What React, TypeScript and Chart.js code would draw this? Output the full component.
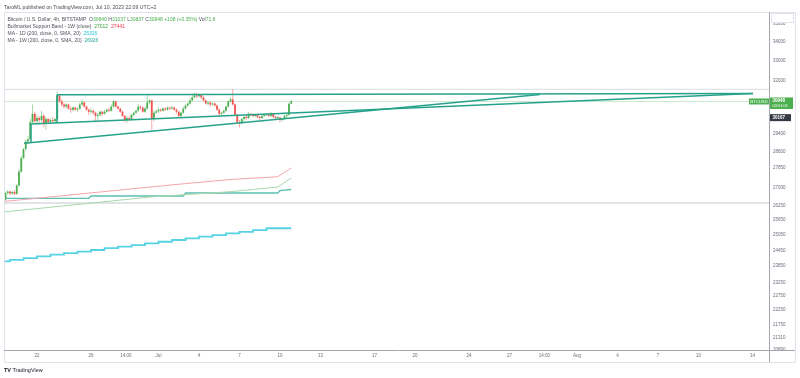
import React, { useEffect, useRef } from "react";
import { Chart, registerables } from "chart.js";

Chart.register(...registerables);

// Time is measured in days, with Jun 1 2023 00:00 UTC = 0.
const FIRST_CANDLE_DAY = 18 + 16 / 24; // Jun 19 16:00
const CANDLE_DAYS = 4 / 24; // 4h candles

const opens = [
  26500, 26780,
  26840, 26760, 26820, 26740, 27100, 27700,
  28300, 28700, 29050, 29150, 29950, 30350,
  30000, 30150, 30050, 30250, 29900, 30100,
  29950, 30050, 30000, 30100, 31250, 30950,
  30800, 30700, 30800, 30600, 30550, 30650,
  30550, 30600, 30800, 30900, 30700, 30550,
  30450, 30500, 30400, 30250, 30300, 30450,
  30350, 30450, 30550, 30500, 30700, 30950,
  30700, 30600, 30450, 30250, 30050, 30150,
  30100, 30300, 30400, 30500, 30700, 30650,
  30450, 30600, 30900, 31000, 30100, 30400,
  30470, 30550, 30500, 30600, 30550, 30650,
  30600, 30650, 30550, 30450, 30250, 30400,
  30600, 30750, 30850, 31000, 31150, 31250,
  31200, 31280, 31150, 31000, 30850, 30900,
  30800, 30850, 30750, 30550, 30350, 30400,
  30500, 30700, 30950, 31050, 30800, 30300,
  29950, 29900, 30100, 30200, 30150, 30350,
  30300, 30250, 30300, 30200, 30150, 30250,
  30280, 30300, 30250, 30350, 30200, 30150,
  30170, 30050, 30100, 30250, 30300, 30840,
];
const highs = [
  26830, 26900,
  26880, 26860, 26900, 27150, 27800, 28400,
  28750, 29150, 29300, 30100, 30800, 30450,
  30300, 30250, 30500, 30350, 30200, 30150,
  30150, 30200, 30150, 31430, 31300, 31050,
  30900, 30850, 30850, 30700, 30700, 30700,
  30650, 30900, 31050, 30950, 30750, 30600,
  30650, 30550, 30450, 30400, 30500, 30500,
  30550, 30600, 30650, 30800, 31010, 30980,
  30750, 30650, 30500, 30300, 30250, 30250,
  30350, 30450, 30550, 30830, 30750, 30700,
  30700, 31280, 31050, 31050, 30500, 30550,
  30650, 30600, 30650, 30650, 30700, 30700,
  30750, 30700, 30600, 30500, 30450, 30700,
  30800, 30900, 31100, 31300, 31390, 31350,
  31330, 31300, 31200, 31050, 30950, 30950,
  30900, 30900, 30800, 30600, 30450, 30550,
  30750, 31000, 31150, 31550, 30850, 30350,
  30050, 30150, 30250, 30300, 30450, 30400,
  30350, 30350, 30350, 30250, 30300, 30350,
  30380, 30350, 30440, 30400, 30250, 30250,
  30200, 30150, 30300, 30400, 30900, 31037,
];
const lows = [
  26460, 26700,
  26680, 26700, 26690, 26700, 27050, 27650,
  28250, 28650, 28950, 29100, 29900, 29900,
  29850, 29900, 29950, 29700, 29600, 29850,
  29850, 29900, 29900, 30050, 30900, 30700,
  30600, 30600, 30550, 30400, 30450, 30500,
  30450, 30550, 30750, 30650, 30500, 30300,
  30350, 30300, 30000, 29950, 30200, 30250,
  30300, 30400, 30450, 30450, 30650, 30650,
  30550, 30400, 30200, 29950, 29920, 30000,
  30050, 30250, 30350, 30450, 30550, 30400,
  30400, 30550, 30800, 29600, 30000, 30350,
  30400, 30450, 30450, 30500, 30500, 30550,
  30550, 30500, 30350, 30170, 30200, 30350,
  30550, 30700, 30800, 30950, 31100, 31100,
  31150, 31050, 30950, 30800, 30750, 30700,
  30750, 30700, 30500, 30250, 30200, 30350,
  30450, 30650, 30900, 30750, 30250, 29850,
  29700, 29850, 30000, 30050, 30100, 30250,
  30200, 30200, 30150, 30060, 30100, 30200,
  30250, 30200, 30200, 30150, 30070, 30100,
  29950, 29980, 30050, 30150, 30250, 30837,
];
const closes = [
  26780, 26840,
  26760, 26820, 26740, 27100, 27700, 28300,
  28700, 29050, 29150, 29950, 30350, 30000,
  30150, 30050, 30250, 29900, 30100, 29950,
  30050, 30000, 30100, 31250, 30950, 30800,
  30700, 30800, 30600, 30550, 30650, 30550,
  30600, 30800, 30900, 30700, 30550, 30450,
  30500, 30400, 30250, 30300, 30450, 30350,
  30450, 30550, 30500, 30700, 30950, 30700,
  30600, 30450, 30250, 30050, 30150, 30100,
  30300, 30400, 30500, 30700, 30650, 30450,
  30600, 30900, 31000, 30100, 30400, 30470,
  30550, 30500, 30600, 30550, 30650, 30600,
  30650, 30550, 30450, 30250, 30400, 30600,
  30750, 30850, 31000, 31150, 31250, 31200,
  31280, 31150, 31000, 30850, 30900, 30800,
  30850, 30750, 30550, 30350, 30400, 30500,
  30700, 30950, 31050, 30800, 30300, 29950,
  29900, 30100, 30200, 30150, 30350, 30300,
  30250, 30300, 30200, 30150, 30250, 30280,
  30300, 30250, 30350, 30200, 30150, 30170,
  30050, 30100, 30250, 30300, 30840, 30948,
];

// Bull market support band (weekly) on the 4h chart
const bandDays = [18.5, 25, 29.37, 32, 35.3, 38.833, 39.833];
const bandUpper = [26419, 26781, 27032, 27178, 27355, 27476, 27857];
const bandLower = [25984, 26352, 26607, 26709, 26831, 27032, 27420];

// MA 1W (200)
const ma1wDays = [18.5, 24.833, 25, 31.833, 32, 38.833, 39, 39.833];
const ma1wValues = [26553, 26553, 26650, 26650, 26777, 26777, 26874, 26926];

// MA 1D (200), one value per day start
const ma1dDays = [18, 19, 20, 21, 22, 23, 24, 25, 26, 27, 28, 29, 30, 31, 32, 33, 34, 35, 36, 37, 38, 39, 39.833];
const ma1dValues = [23970, 24030, 24090, 24160, 24220, 24290, 24350, 24410, 24470, 24540, 24600, 24660, 24730, 24790, 24860, 24920, 24990, 25050, 25120, 25180, 25250, 25326, 25326];

// Drawn pattern (trend lines)
const topLineDays = [22.481, 74.037];
const topLinePrices = [31277, 31341];
const midLineDays = [20.556, 74.037];
const midLinePrices = [29865, 31341];
const lowLineDays = [20.037, 58.259];
const lowLinePrices = [28967, 31291];
const flag1Days = [20.556, 20.556];
const flag1Prices = [29004, 29865];
const flag2Days = [22.481, 22.481];
const flag2Prices = [29917, 31277];

const resistanceLevel = 31550;
const supportLevel = 26357;
const currentPrice = 30948;
const markedPrice = 30167;
const countdown = "03:51:01";

const xTickDays = [21, 25, 27 + 14 / 24, 30, 33, 36, 39, 42, 46, 49, 53, 56, 58 + 14 / 24, 61, 64, 67, 70, 74];
const xTickLabels = ["22", "26", "14:00", "Jul", "4", "7", "10", "13", "17", "20", "24", "27", "14:00", "Aug", "4", "7", "10", "14"];
const yTickValues = [35000, 34000, 33000, 32000, 29400, 28600, 27850, 27000, 26250, 25650, 25050, 24450, 23850, 23250, 22750, 22250, 21750, 21310, 20890];

const X_MIN = 18.5556;
const X_MAX = 75.2222;
const Y_MIN = 20890;
const Y_MAX = 35652;

const FONT = '"Liberation Sans", Arial, sans-serif';
const UP = "#4caf50";
const DOWN = "#ef5350";
const DRAW = "#26a28a";

const decorPlugin = {
  id: "decor",
  beforeDraw(chart: any) {
    const ctx = chart.ctx;
    ctx.save();
    ctx.fillStyle = "#ffffff";
    ctx.fillRect(0, 0, chart.width, chart.height);
    ctx.restore();
  },
  afterDraw(chart: any) {
    const { ctx, chartArea, scales } = chart;
    const ys = scales.y;
    const r = chartArea.right;
    ctx.save();
    ctx.lineWidth = 1;
    ctx.strokeStyle = "#e0e3eb";
    ctx.strokeRect(4.5, 12.5, 791, 350);
    ctx.strokeStyle = "#a3a6af";
    ctx.beginPath();
    ctx.moveTo(r + 0.5, chartArea.top);
    ctx.lineTo(r + 0.5, 362);
    ctx.moveTo(chartArea.left, chartArea.bottom + 0.5);
    ctx.lineTo(795, chartArea.bottom + 0.5);
    ctx.stroke();

    // top button on price axis
    ctx.fillStyle = "#ffffff";
    ctx.fillRect(r + 2, 13, 23, 10);
    ctx.strokeStyle = "#e0e3eb";
    ctx.strokeRect(r + 2.5, 13.5, 22, 9);

    // current price
    const py = ys.getPixelForValue(currentPrice);
    ctx.fillStyle = UP;
    ctx.fillRect(r + 1, py - 4, 23, 11.5);
    ctx.fillRect(r - 20, py - 3, 20, 6);
    ctx.fillStyle = "#ffffff";
    ctx.textBaseline = "middle";
    ctx.textAlign = "left";
    ctx.font = `bold 4.5px ${FONT}`;
    ctx.fillText(String(currentPrice), r + 3.5, py - 0.6);
    ctx.font = `4px ${FONT}`;
    ctx.fillText(countdown, r + 3.5, py + 4.2);
    ctx.font = `4.3px ${FONT}`;
    ctx.textAlign = "center";
    ctx.fillText("BTCUSD", r - 10, py + 0.2);

    const my = ys.getPixelForValue(markedPrice);
    ctx.fillStyle = "#363a45";
    ctx.fillRect(r + 1, my - 3.5, 21, 7);
    ctx.fillStyle = "#ffffff";
    ctx.textAlign = "left";
    ctx.font = `bold 4.5px ${FONT}`;
    ctx.fillText(String(markedPrice), r + 3.5, my);
    ctx.restore();
  },
};

export default function App() {
  const ref = useRef<HTMLCanvasElement>(null);

  useEffect(() => {
    const canvas = ref.current;
    if (!canvas) return;
    const candleDays = closes.map((_, i) => FIRST_CANDLE_DAY + i * CANDLE_DAYS);
    const up = closes.map((c, i) => c >= opens[i]);
    const wickData = candleDays.map((d, i) => ({ x: d, y: [lows[i], highs[i]] }));
    const bodyData = candleDays.map((d, i) => ({ x: d, y: [opens[i], closes[i]] }));
    const pts = (days: number[], vals: number[]) => days.map((d, i) => ({ x: d, y: vals[i] }));
    const line = (data: any[], color: string, width: number, order: number, extra: any = {}) => ({
      type: "line",
      data,
      borderColor: color,
      borderWidth: width,
      pointRadius: 0,
      fill: false,
      tension: 0,
      order,
      ...extra,
    });

    const chart = new Chart(canvas, {
      type: "bar",
      data: {
        datasets: [
          line(pts(flag1Days, flag1Prices), DRAW, 1.5, 0),
          line(pts(flag2Days, flag2Prices), DRAW, 1.5, 0),
          line(pts(topLineDays, topLinePrices), DRAW, 1.5, 0),
          line(pts(midLineDays, midLinePrices), DRAW, 1.5, 0),
          line(pts(lowLineDays, lowLinePrices), DRAW, 1.5, 0),
          {
            type: "bar",
            data: bodyData,
            backgroundColor: up.map((u) => (u ? UP : DOWN)),
            barThickness: 1.8,
            grouped: false,
            minBarLength: 1,
            inflateAmount: 0,
            order: 1,
          },
          {
            type: "bar",
            data: wickData,
            backgroundColor: up.map((u) => (u ? "rgba(76,175,80,0.5)" : "rgba(239,83,80,0.5)")),
            barThickness: 1,
            grouped: false,
            inflateAmount: 0,
            order: 2,
          },
          line(pts(bandDays, bandUpper), "#f5a5ab", 1, 3),
          line(pts(bandDays, bandLower), "#a8d8aa", 1, 3),
          line(pts(ma1wDays, ma1wValues), "#5dbfb2", 1.3, 3),
          line(pts(ma1dDays, ma1dValues), "#56d3e3", 1.8, 3, { stepped: "after" }),
          line(pts([X_MIN, X_MAX], [currentPrice, currentPrice]), "#cde9ce", 1, 4),
          line(pts([X_MIN, X_MAX], [resistanceLevel, resistanceLevel]), "#dadce2", 1, 4),
          line(pts([X_MIN, X_MAX], [supportLevel, supportLevel]), "#c5c8cf", 1, 4),
        ] as any,
      },
      options: {
        animation: false,
        responsive: false,
        events: [],
        layout: { padding: { left: 4, top: 12, right: 5, bottom: 16 }, autoPadding: false },
        plugins: { legend: { display: false }, tooltip: { enabled: false } },
        scales: {
          x: {
            type: "linear",
            min: X_MIN,
            max: X_MAX,
            offset: false,
            bounds: "data",
            grid: { display: false, drawTicks: false },
            border: { display: false },
            afterBuildTicks: (s: any) => {
              s.ticks = xTickDays.map((v) => ({ value: v }));
            },
            afterFit: (s: any) => {
              s.height = 12;
            },
            ticks: {
              autoSkip: false,
              maxRotation: 0,
              minRotation: 0,
              padding: 3,
              color: "#6a6d78",
              font: { family: FONT, size: 4.5 },
              callback: (_v: any, i: number) => xTickLabels[i],
            },
          },
          y: {
            type: "logarithmic",
            position: "right",
            min: Y_MIN,
            max: Y_MAX,
            bounds: "data",
            grid: { display: false, drawTicks: false },
            border: { display: false },
            afterBuildTicks: (s: any) => {
              s.ticks = yTickValues.map((v) => ({ value: v }));
            },
            afterFit: (s: any) => {
              s.width = 26;
            },
            ticks: {
              padding: 4,
              color: "#6a6d78",
              font: { family: FONT, size: 4.5 },
              callback: (v: any) => String(v),
            },
          },
        },
      } as any,
      plugins: [decorPlugin],
    });
    return () => chart.destroy();
  }, []);

  const txt: React.CSSProperties = {
    position: "absolute",
    whiteSpace: "nowrap",
    fontFamily: FONT,
    color: "#50535e",
    lineHeight: "6px",
  };
  const g = { color: UP };

  return (
    <div style={{ position: "absolute", left: 0, top: 0, width: 800, height: 378, background: "#fff", overflow: "hidden" }}>
      <canvas ref={ref} width={800} height={378} style={{ position: "absolute", left: 0, top: 0, display: "block" }} />
      <div style={{ ...txt, left: 4, top: 4, fontSize: 5.2, color: "#4a4d57" }}>
        TaroML published on TradingView.com, Jul 10, 2023 22:09 UTC+2
      </div>
      <div style={{ ...txt, left: 7.5, top: 16, fontSize: 5 }}>
        Bitcoin / U.S. Dollar, 4h, BITSTAMP&nbsp; O<span style={g}>30840</span> H<span style={g}>31037</span> L
        <span style={g}>30837</span> C<span style={g}>30948</span> <span style={g}>+108 (+0.35%)</span> Vol
        <span style={g}>71.8</span>
      </div>
      <div style={{ ...txt, left: 7.5, top: 22.7, fontSize: 5 }}>
        Bullmarket Support Band - 1W (close)&nbsp; <span style={{ color: "#43a047" }}>27012</span>&nbsp;{" "}
        <span style={{ color: "#f23645" }}>27441</span>
      </div>
      <div style={{ ...txt, left: 7.5, top: 30, fontSize: 5 }}>
        MA - 1D (200, close, 0, SMA, 20)&nbsp; <span style={{ color: "#26c6da" }}>25326</span>
      </div>
      <div style={{ ...txt, left: 7.5, top: 37, fontSize: 5 }}>
        MA - 1W (200, close, 0, SMA, 20)&nbsp; <span style={{ color: "#26a69a" }}>26926</span>
      </div>
      <div style={{ ...txt, left: 4, top: 367, fontSize: 5.5, color: "#131722" }}>
        <b>TV</b> TradingView
      </div>
    </div>
  );
}
